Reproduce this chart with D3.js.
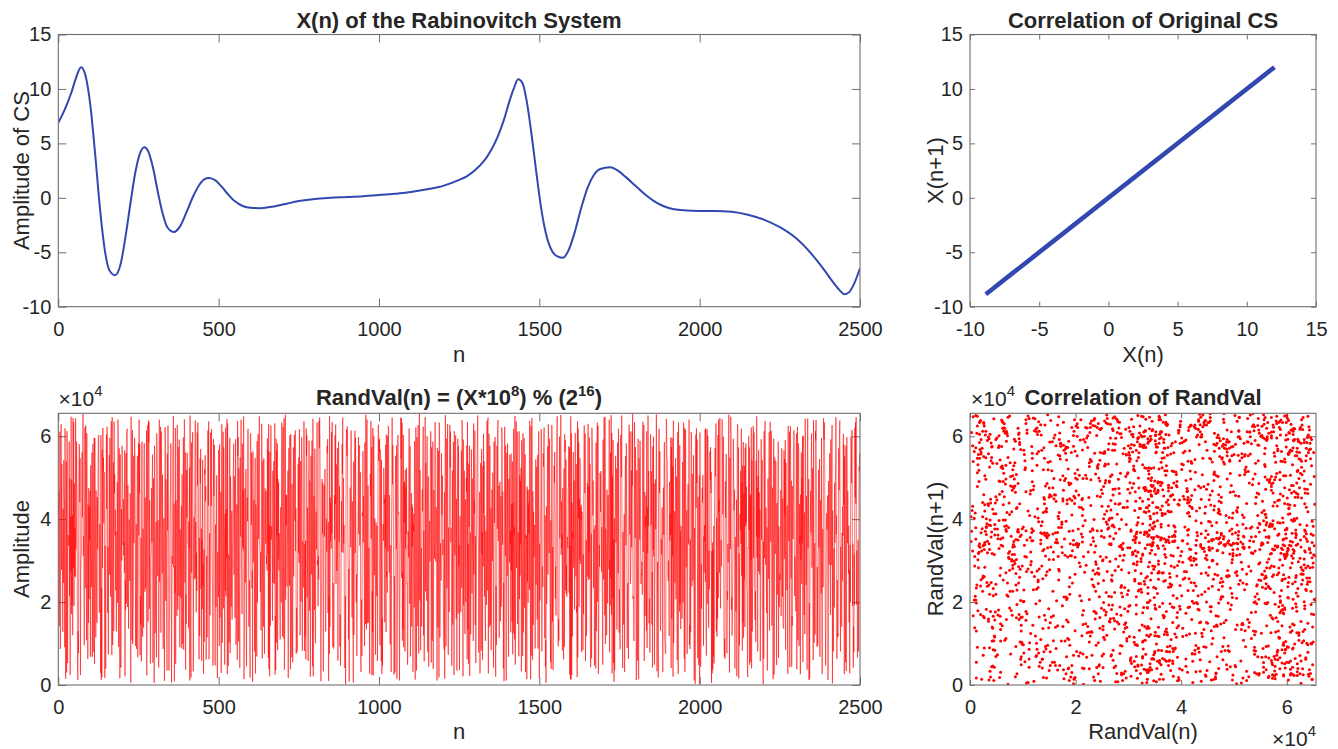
<!DOCTYPE html>
<html><head><meta charset="utf-8">
<script src="https://cdn.jsdelivr.net/npm/d3@7"></script>
<style>body{margin:0;background:#fff}svg{display:block}text{font-family:"Liberation Sans",Arial,Helvetica,sans-serif;fill:#262626}</style>
</head><body><svg id="c" width="1338" height="749"></svg>
<script>
// ---- X(n) of the Rabinovitch system ----
const csN = [0,20,40,55,71,85,100,115,130,145,160,177,195,210,225,240,255,268,280,295,310,325,340,361,380,400,420,440,455,470,490,510,530,550,575,600,629,660,700,750,800,850,900,950,1000,1050,1100,1150,1200,1250,1275,1300,1325,1350,1370,1390,1405,1420,1434,1448,1460,1475,1490,1505,1520,1540,1558,1574,1590,1610,1630,1650,1670,1690,1720,1745,1770,1800,1830,1860,1890,1920,1950,2000,2050,2100,2150,2200,2250,2300,2350,2380,2400,2420,2440,2451,2465,2480,2500];
const csX = [6.9,8.1,9.6,11.0,12.0,11.2,8.5,4.0,-1.0,-4.8,-6.7,-7.1,-6.0,-3.5,-0.5,2.3,4.1,4.65,4.3,2.8,0.6,-1.4,-2.7,-3.14,-2.6,-1.3,0.1,1.2,1.7,1.82,1.6,1.0,0.3,-0.3,-0.75,-0.92,-0.95,-0.85,-0.62,-0.3,-0.1,0.0,0.07,0.15,0.26,0.38,0.53,0.78,1.1,1.65,2.0,2.55,3.3,4.4,5.6,7.2,8.7,10.0,10.88,10.5,9.0,6.0,2.5,-0.8,-3.2,-4.9,-5.4,-5.5,-4.9,-3.2,-1.0,0.9,2.1,2.65,2.8,2.5,1.9,1.1,0.3,-0.35,-0.8,-1.05,-1.15,-1.2,-1.2,-1.28,-1.55,-2.0,-2.7,-3.7,-5.2,-6.3,-7.1,-7.9,-8.6,-8.86,-8.7,-8.0,-6.47];

// ---- RandVal(n), in units of 100, ten blocks of 250 samples ----
const randA = [412,468,142,361,611,87,93,608,629,278,533,357,291,128,425,246,542,453,447,91,619,178,15,302,539,30,612,572,53,362,355,336,338,587,214,498,24,406,274,647,171,495,193,410,120,644,283,634,191,486,263,379,260,643,327,389,587,495,337,36,12,130,77,480,581,577,441,547,24,258,308,315,365,561,404,455,654,312,359,189,96,204,621,233,626,621,518,108,607,347,344,63,435,150,475,207,429,349,468,68,530,348,236,320,560,68,271,582,79,299,472,596,51,596,438,391,115,469,265,152,150,453,327,531,599,603,327,174,388,381,287,29,603,12,234,19,568,282,620,515,548,390,514,296,17,336,186,39,439,604,425,623,587,174,333,74,305,374,554,266,596,476,213,345,636,231,72,646,101,97,362,537,130,635,463,508,361,423,228,370,129,249,359,489,198,640,601,92,369,571,317,16,556,43,46,43,424,300,577,495,481,338,448,313,344,270,566,21,254,181,559,197,612,612,618,188,483,335,136,287,399,312,251,462,422,6,647,529,332,108,615,99,164,203,553,342,401,596,545,379,94,260,388,87,241,527,553,67,398,583];
const randB = [361,640,462,581,72,214,146,355,57,491,587,302,117,377,357,139,519,583,445,225,452,233,241,271,614,23,377,418,627,153,638,585,634,184,446,306,52,73,308,320,475,344,500,556,54,181,498,326,5,577,552,125,196,349,393,67,607,567,491,263,398,240,42,106,640,249,372,441,623,126,611,531,378,269,507,328,87,269,403,348,10,415,622,588,203,496,295,150,35,558,373,626,511,315,35,154,164,343,459,468,583,335,6,167,310,292,571,596,649,284,438,9,287,222,620,51,446,430,368,166,627,268,182,574,432,215,592,539,91,375,349,211,364,432,88,508,353,99,287,597,85,480,641,603,247,561,37,219,148,519,404,560,472,341,339,137,394,331,524,11,650,104,56,18,585,271,472,571,610,294,33,319,404,255,412,446,638,258,393,175,319,227,609,481,633,592,403,137,62,355,118,547,486,569,232,377,58,352,183,543,239,291,27,327,104,520,508,554,443,479,61,143,311,115,321,608,615,433,636,62,335,366,168,279,609,463,432,617,356,270,193,47,84,593,456,545,579,502,47,387,284,188,371,506,145,17,320,245,213,567];
const randC = [489,94,580,162,344,356,466,29,371,629,102,229,495,611,185,573,387,362,49,413,228,621,214,424,306,641,26,631,276,46,315,311,103,556,596,77,503,457,189,259,420,158,321,343,482,533,582,266,503,367,162,367,593,97,130,394,436,61,637,553,598,105,524,268,213,41,549,388,358,640,287,278,171,582,332,469,325,648,14,91,350,474,247,310,521,131,45,413,452,395,614,618,337,141,168,253,199,18,605,607,506,386,560,233,276,8,563,296,387,447,372,81,478,548,28,435,427,125,69,588,199,308,605,471,352,581,648,344,325,224,321,132,203,630,616,64,511,541,176,141,547,253,75,411,474,412,341,468,292,313,276,595,315,566,65,630,39,385,21,562,143,419,626,350,383,358,274,155,517,246,492,540,509,243,631,25,166,36,594,102,566,358,583,84,497,303,488,276,366,336,187,110,420,429,199,451,633,358,117,575,622,297,112,643,37,90,370,652,206,458,384,459,238,335,369,517,17,491,571,287,240,602,330,38,605,337,221,67,485,156,55,329,573,262,431,603,556,396,614,323,426,75,186,152,80,168,401,533,319,549];
const randD = [295,617,259,120,230,540,201,468,597,538,83,346,337,235,399,636,541,82,339,117,348,62,619,553,602,211,428,304,58,282,474,589,179,493,465,20,170,553,267,341,589,318,45,642,21,367,456,434,181,570,126,101,381,418,327,443,633,290,301,190,312,255,637,571,645,597,374,121,9,138,256,487,497,364,487,38,33,347,481,358,521,520,230,129,253,401,322,576,560,593,174,393,10,214,75,649,140,452,346,440,329,610,366,634,374,92,246,163,88,162,458,351,602,436,628,243,532,275,276,304,571,59,525,587,513,345,479,93,170,47,116,298,444,322,581,510,645,319,499,341,386,187,41,44,215,2,406,588,616,553,624,561,357,255,110,280,8,205,376,476,453,332,614,467,392,163,443,134,110,6,539,121,480,538,613,318,596,336,199,267,70,217,272,353,429,598,364,547,578,336,427,513,58,31,183,206,70,416,407,564,344,455,393,288,94,585,282,147,652,503,134,628,640,149,361,481,150,303,331,243,27,339,509,455,637,353,574,24,226,127,620,23,571,601,451,265,402,348,73,318,392,263,214,384,58,148,537,628,540,590];
const randE = [563,594,96,568,385,311,57,543,27,162,47,362,388,348,524,438,448,151,459,330,579,128,604,260,274,223,601,322,625,617,366,271,458,99,98,103,337,31,380,455,645,484,579,537,346,287,25,263,193,30,496,553,416,328,578,15,179,352,603,412,414,416,188,11,205,337,359,645,546,643,258,632,107,274,135,603,91,486,392,491,81,519,329,476,364,524,243,245,49,69,371,308,562,619,562,196,576,69,158,303,463,141,437,334,428,32,389,370,413,187,588,461,13,241,621,340,35,598,591,252,142,627,284,76,536,655,204,519,357,84,299,331,141,448,472,419,539,623,120,372,57,264,340,646,226,536,497,211,203,600,378,80,470,503,44,233,355,396,298,509,612,604,54,573,328,106,156,587,39,177,470,415,305,371,634,324,298,429,420,289,11,572,162,139,416,565,18,633,585,115,290,342,253,252,559,411,467,505,313,351,185,112,86,465,15,531,651,561,93,594,352,233,374,629,268,73,380,237,176,444,628,525,611,345,379,244,46,118,517,146,486,586,446,24,612,327,313,324,602,237,159,449,35,433,480,594,172,576,286,337];
const randF = [36,341,407,258,176,449,566,235,639,597,305,21,592,192,312,517,388,123,406,448,200,499,466,578,62,634,134,341,51,534,381,577,22,323,368,122,262,568,496,221,498,317,297,106,631,267,445,414,614,145,359,53,169,275,473,551,600,650,361,350,78,180,313,466,28,420,535,483,83,569,316,369,61,528,286,606,413,540,213,409,173,106,372,350,193,445,637,228,631,645,28,284,606,140,327,577,326,145,426,84,334,471,459,299,512,252,42,317,587,391,508,598,86,20,239,96,163,577,377,603,639,347,391,481,114,356,490,264,154,455,189,219,621,593,338,467,354,40,247,9,310,623,498,311,578,45,11,352,560,263,582,432,183,68,497,403,296,555,340,373,127,558,275,437,152,539,74,439,125,618,362,381,110,649,49,219,506,636,282,436,611,147,331,369,315,69,612,207,506,264,492,339,524,33,590,330,250,70,607,127,275,581,596,186,521,556,31,363,354,359,14,479,249,471,198,438,365,471,230,637,365,197,14,625,71,601,644,583,61,467,145,418,309,316,386,384,88,426,544,242,523,526,158,167,555,88,303,612,395,18];
const randG = [341,204,333,416,432,617,374,81,281,286,236,559,527,586,621,460,113,409,45,107,5,431,196,338,498,575,266,629,507,341,318,594,266,160,55,397,39,448,627,583,153,333,36,241,372,529,487,562,392,209,286,168,380,557,640,648,395,143,93,158,107,309,599,354,415,441,651,314,443,330,363,83,475,147,96,62,522,92,605,562,590,228,544,220,289,213,357,357,330,474,478,576,223,573,25,336,14,648,13,607,24,440,117,368,353,562,283,462,493,182,395,608,336,262,533,175,191,19,636,66,619,402,585,189,449,302,547,292,428,396,434,79,418,301,271,84,315,171,545,626,544,463,607,58,134,350,119,348,356,487,261,630,253,479,319,597,256,533,112,43,137,365,64,620,571,485,409,493,234,347,376,47,376,385,216,40,584,130,563,599,633,201,625,27,89,229,338,285,511,506,417,516,410,273,381,313,97,49,592,255,559,645,569,168,647,99,377,344,335,120,471,424,197,455,458,348,279,640,79,303,192,561,259,651,170,608,28,505,209,591,53,353,8,402,36,386,487,553,343,522,514,134,367,585,364,270,618,222,126,231];
const randH = [127,86,588,603,559,502,650,294,137,41,369,293,146,366,412,31,401,520,552,337,583,569,389,89,194,246,137,63,398,628,451,363,611,244,267,338,517,332,612,481,655,208,215,180,106,177,634,473,355,574,396,12,17,518,359,59,337,594,22,14,547,461,351,589,540,323,244,269,265,298,218,586,635,321,426,627,58,106,466,167,407,381,457,131,612,89,428,318,650,383,516,149,184,209,78,359,605,561,386,515,146,273,42,575,326,599,310,486,49,243,281,496,376,435,653,436,33,238,297,139,18,547,615,618,463,564,199,131,164,351,315,356,428,337,31,382,476,362,489,586,113,102,77,75,277,642,623,546,541,438,269,251,300,228,118,490,348,413,362,597,41,574,159,596,310,528,20,638,101,201,339,419,247,454,547,207,295,503,271,60,575,611,26,633,492,372,177,578,195,372,135,384,346,343,160,459,538,199,564,633,304,63,620,32,247,616,453,284,312,421,75,322,451,484,339,433,640,97,144,87,351,127,530,610,565,238,509,370,252,302,554,236,11,379,196,3,371,604,427,619,487,592,327,65,454,325,48,176,505,3];
const randI = [609,312,44,85,293,184,437,476,440,507,428,95,358,271,386,346,616,249,619,126,71,246,617,196,602,593,392,138,324,231,255,563,495,574,463,514,5,323,28,344,37,327,69,384,52,376,482,571,503,581,631,129,403,117,272,161,603,210,640,418,447,271,644,249,185,309,350,286,333,641,560,412,439,599,316,97,68,112,63,491,404,531,557,421,76,226,206,340,296,556,652,336,30,548,369,328,647,592,182,212,119,144,265,359,594,505,421,426,471,40,357,299,178,212,447,21,557,629,627,333,573,16,317,95,279,412,373,517,340,618,264,489,83,529,151,586,114,461,255,528,140,572,383,583,392,478,238,226,39,19,332,330,600,375,573,49,454,56,460,301,621,40,541,129,235,237,625,306,604,609,398,183,157,226,104,541,358,648,307,476,81,505,274,566,355,464,267,422,57,166,343,593,350,492,543,196,72,2,346,64,612,306,580,637,429,290,428,239,173,380,35,159,498,415,256,530,610,131,280,635,371,345,613,591,143,157,476,366,14,512,594,25,72,549,327,316,541,535,318,48,439,218,397,446,587,66,383,188,237,268];
const randJ = [254,356,470,166,368,571,479,213,450,149,138,136,566,304,545,409,591,85,536,318,320,229,433,89,27,625,387,347,352,611,43,535,624,476,257,493,44,166,143,480,352,462,509,614,401,215,310,293,235,178,566,607,38,398,623,108,172,583,565,94,437,339,362,26,459,301,561,244,499,342,600,55,601,315,213,169,416,123,642,567,382,241,456,177,37,526,643,330,418,497,12,198,16,283,376,468,368,548,607,283,334,523,378,60,639,243,102,202,342,122,613,589,639,472,443,92,285,95,104,310,519,332,477,545,68,375,446,355,221,596,182,27,261,376,236,643,615,592,633,516,279,152,47,157,364,414,375,420,457,12,55,492,316,290,558,558,257,169,592,289,327,574,627,4,421,202,81,289,329,187,488,343,493,510,646,364,409,63,253,115,124,118,559,571,470,603,638,385,81,333,258,223,141,367,250,431,360,606,434,580,26,551,252,133,55,577,34,437,598,505,342,468,324,269,384,151,278,28,338,199,510,599,574,487,615,397,190,341,42,140,80,315,193,621,453,634,437,646,194,324,305,66,108,350,81,226,527,515,558,532];
const randVal = [].concat(randA, randB, randC, randD, randE, randF, randG, randH, randI, randJ).map(v => v * 100);

// ---- tick values ----
const nTicks = [0, 500, 1000, 1500, 2000, 2500];
const csTicks = [-10, -5, 0, 5, 10, 15];
const randTicks = [0, 20000, 40000, 60000];

const svg = d3.select("#c");
const FONT = '"Liberation Sans",Arial,Helvetica,sans-serif';
const AX = "#6f6f6f";
const plain = d => String(d);
const tenK = d => String(d / 1e4);

function panel(b, xd, yd, xt, yt, tl, xf, yf) {
  const g = svg.append("g");
  const x = d3.scaleLinear().domain(xd).range([b.x0, b.x1]);
  const y = d3.scaleLinear().domain(yd).range([b.y1, b.y0]);
  const style = s => {
    s.select(".domain").remove();
    s.attr("font-size", 20).attr("font-family", FONT).attr("color", "#262626");
    s.selectAll(".tick line").attr("stroke", AX);
  };
  g.append("g").attr("transform", `translate(0,${b.y1})`)
    .call(d3.axisBottom(x).tickValues(xt).tickFormat(xf).tickSizeInner(-tl).tickSizeOuter(0).tickPadding(15)).call(style);
  g.append("g").attr("transform", `translate(0,${b.y0})`)
    .call(d3.axisTop(x).tickValues(xt).tickFormat(() => "").tickSizeInner(-tl).tickSizeOuter(0)).call(style);
  g.append("g").attr("transform", `translate(${b.x0},0)`)
    .call(d3.axisLeft(y).tickValues(yt).tickFormat(yf).tickSizeInner(-tl).tickSizeOuter(0).tickPadding(7)).call(style);
  g.append("g").attr("transform", `translate(${b.x1},0)`)
    .call(d3.axisRight(y).tickValues(yt).tickFormat(() => "").tickSizeInner(-tl).tickSizeOuter(0)).call(style);
  const id = "clip" + Math.round(b.x0) + "_" + Math.round(b.y0);
  svg.append("clipPath").attr("id", id).append("rect")
    .attr("x", b.x0).attr("y", b.y0).attr("width", b.x1 - b.x0).attr("height", b.y1 - b.y0);
  const data = svg.append("g").attr("clip-path", `url(#${id})`);
  const frame = () => svg.append("rect").attr("x", b.x0).attr("y", b.y0)
    .attr("width", b.x1 - b.x0).attr("height", b.y1 - b.y0)
    .attr("fill", "none").attr("stroke", AX).attr("stroke-width", 1.1);
  return { x, y, data, frame };
}

function title(txt, cx, y) {
  return svg.append("text").attr("x", cx).attr("y", y).attr("text-anchor", "middle")
    .attr("font-size", 22).attr("font-weight", "bold").text(txt);
}
function label(txt, x, y, rot) {
  const t = svg.append("text").attr("font-size", 22).attr("text-anchor", "middle").text(txt);
  if (rot) t.attr("transform", `translate(${x},${y}) rotate(-90)`);
  else t.attr("x", x).attr("y", y);
  return t;
}
function exponent(x, y, anchor) {
  const t = svg.append("text").attr("x", x).attr("y", y).attr("font-size", 21).attr("text-anchor", anchor);
  t.append("tspan").text("\u00d710");
  t.append("tspan").attr("font-size", 15).attr("dy", -10).text("4");
}

const BLUE = "#3148b0";
const RED = "#ff0000";

// ---- top-left: X(n) ----
const p1 = panel({ x0: 58.3, x1: 860, y0: 34.5, y1: 306.7 }, [0, 2500], [-10, 15], nTicks, csTicks, 8, plain, plain);
p1.data.append("path").datum(csN.map((n, i) => [n, csX[i]]))
  .attr("fill", "none").attr("stroke", BLUE).attr("stroke-width", 2)
  .attr("d", d3.line().x(d => p1.x(d[0])).y(d => p1.y(d[1])).curve(d3.curveMonotoneX));
p1.frame();
title("X(n) of the Rabinovitch System", 459, 28);
label("n", 459, 362);
label("Amplitude of CS", 29, 170.6, true);

// ---- top-right: correlation of X (X(n+1) ~ X(n) at unit lag) ----
const p2 = panel({ x0: 970, x1: 1316, y0: 34.5, y1: 306.7 }, [-10, 15], [-10, 15], csTicks, csTicks, 5, plain, plain);
p2.data.append("path").datum(csX)
  .attr("fill", "none").attr("stroke", BLUE).attr("stroke-width", 4.5).attr("stroke-linecap", "round")
  .attr("d", d3.line().x(d => p2.x(d)).y(d => p2.y(d)));
p2.frame();
title("Correlation of Original CS", 1143, 28);
label("X(n)", 1143, 362);
label("X(n+1)", 943, 170.6, true);

// ---- bottom-left: RandVal(n) ----
const p3 = panel({ x0: 58.3, x1: 860, y0: 413.3, y1: 685 }, [0, 2500], [0, 65536], nTicks, randTicks, 8, plain, tenK);
p3.data.append("path").datum(randVal)
  .attr("fill", "none").attr("stroke", RED).attr("stroke-width", 0.55)
  .attr("d", d3.line().x((d, i) => p3.x(i + 1)).y(d => p3.y(d)));
p3.frame();
const t3 = svg.append("text").attr("x", 459).attr("y", 405).attr("text-anchor", "middle")
  .attr("font-size", 22).attr("font-weight", "bold");
t3.append("tspan").text("RandVal(n) = (X*10");
t3.append("tspan").attr("font-size", 15).attr("dy", -9).text("8");
t3.append("tspan").attr("dy", 9).text(") % (2");
t3.append("tspan").attr("font-size", 15).attr("dy", -9).text("16");
t3.append("tspan").attr("dy", 9).text(")");
exponent(58.5, 406, "start");
label("n", 459, 739);
label("Amplitude", 29, 549, true);

// ---- bottom-right: correlation of RandVal ----
const p4 = panel({ x0: 970, x1: 1316, y0: 413.3, y1: 685 }, [0, 65536], [0, 65536], randTicks, randTicks, 5, tenK, tenK);
p4.data.selectAll("circle").data(d3.pairs(randVal)).join("circle")
  .attr("cx", d => p4.x(d[0])).attr("cy", d => p4.y(d[1])).attr("r", 1.5).attr("fill", RED);
p4.frame();
title("Correlation of RandVal", 1143, 405);
exponent(971, 406, "start");
exponent(1316, 746, "end");
label("RandVal(n)", 1143, 739);
label("RandVal(n+1)", 943, 549, true);
</script>
</body></html>
